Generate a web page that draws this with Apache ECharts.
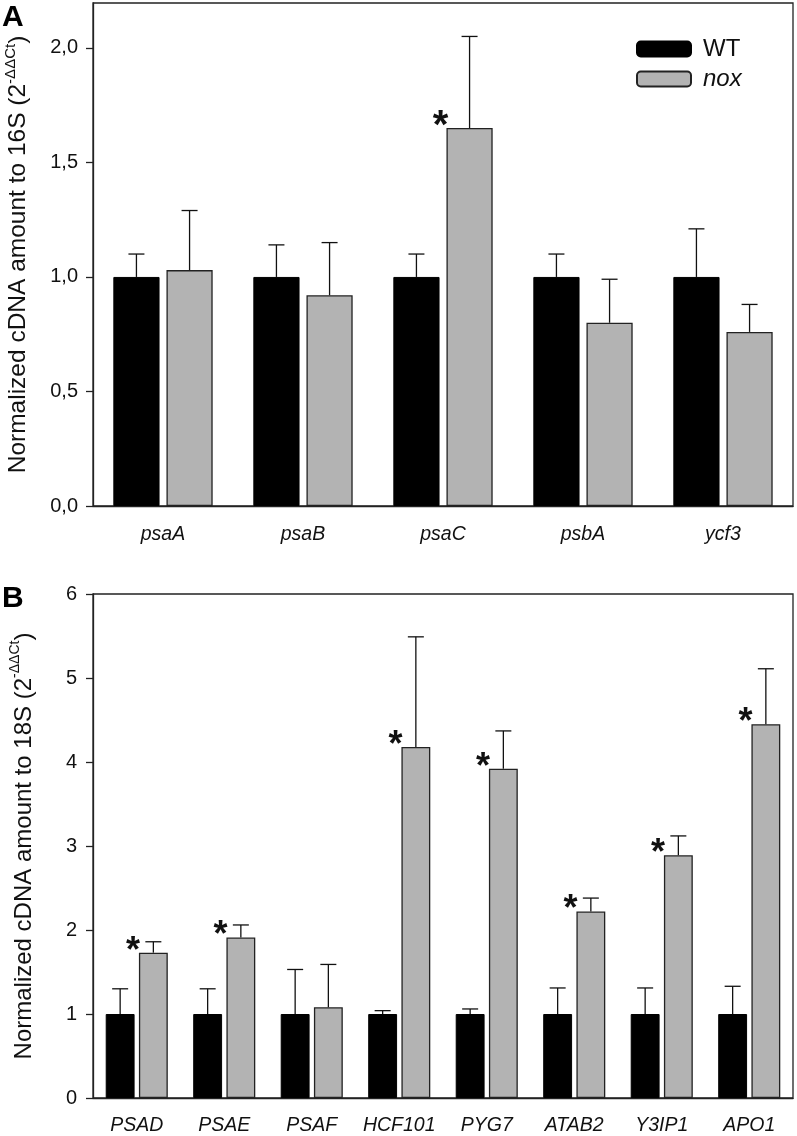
<!DOCTYPE html>
<html><head><meta charset="utf-8">
<script src="https://cdn.jsdelivr.net/npm/echarts@6/dist/echarts.min.js"></script>
<style>html,body{margin:0;padding:0;background:#fff}#c{width:797px;height:1136px}</style>
</head><body><div id="c"></div><script>
// Panel A (chloroplast genes, normalized to 16S)
const genesA = ['psaA', 'psaB', 'psaC', 'psbA', 'ycf3'];
const wtA = [1.0, 1.0, 1.0, 1.0, 1.0];
const wtErrA = [0.10, 0.14, 0.10, 0.10, 0.21];
const noxA = [1.03, 0.92, 1.65, 0.80, 0.76];
const noxErrA = [0.26, 0.23, 0.40, 0.19, 0.12];
const sigA = [false, false, true, false, false];
const ticksA = [0, 0.5, 1.0, 1.5, 2.0];

// Panel B (nuclear genes, normalized to 18S)
const genesB = ['PSAD', 'PSAE', 'PSAF', 'HCF101', 'PYG7', 'ATAB2', 'Y3IP1', 'APO1'];
const wtB = [1, 1, 1, 1, 1, 1, 1, 1];
const wtErrB = [0.30, 0.30, 0.53, 0.04, 0.06, 0.31, 0.31, 0.33];
const noxB = [1.73, 1.91, 1.08, 4.18, 3.92, 2.22, 2.89, 4.45];
const noxErrB = [0.13, 0.15, 0.51, 1.31, 0.45, 0.16, 0.23, 0.66];
const sigB = [true, true, false, true, true, true, true, true];

const FONT = '"Liberation Sans", Arial, Helvetica, sans-serif';
const BAR_W = 0.33, BAR_GAP = 0.15;
const GRAY = '#b3b3b3';

function barOffset(band, idx) {
  const w = band * BAR_W, g = w * BAR_GAP;
  const total = 2 * w + g;
  const start = -total / 2;
  return { center: start + w / 2 + idx * (w + g), w: w };
}

function errSeries(gridIdx, vals, errs, sig, idx) {
  return {
    type: 'custom', xAxisIndex: gridIdx, yAxisIndex: gridIdx, z: 5,
    data: vals.map((v, i) => [i, v, errs[i], sig ? (sig[i] ? 1 : 0) : 0]),
    renderItem: function (params, api) {
      const ci = api.value(0), v = api.value(1), e = api.value(2), s = api.value(3);
      const band = api.size([1, 0])[0];
      const off = barOffset(band, idx);
      const base = api.coord([ci, v]);
      const top = api.coord([ci, v + e]);
      const x = base[0] + off.center;
      const cap = 8;
      const st = { stroke: '#111', lineWidth: 1.3 };
      const children = [
        { type: 'line', shape: { x1: x, y1: base[1], x2: x, y2: top[1] }, style: st },
        { type: 'line', shape: { x1: x - cap, y1: top[1], x2: x + cap, y2: top[1] }, style: st }
      ];
      if (s) {
        const fs = gridIdx === 0 ? 40 : 36;
        children.push({
          type: 'text',
          style: {
            text: '*', x: x - off.w / 2 - 6, y: base[1] - fs * 0.03,
            fontSize: fs, fontFamily: FONT, fontWeight: 'bold', fill: '#111',
            align: 'center', verticalAlign: 'middle'
          }
        });
      }
      return { type: 'group', children: children };
    }
  };
}

const axisStyle = { lineStyle: { color: '#222', width: 1.3 } };
const tickStyle = { color: '#222', width: 1.3 };
const catLabel = { fontSize: 19.5, fontStyle: 'italic', color: '#111', fontFamily: FONT, interval: 0, hideOverlap: false };
const valLabel = { fontSize: 20, color: '#111', fontFamily: FONT };
function nameRich(fs) {
  return {
    n: { fontSize: fs, color: '#111', fontFamily: FONT, lineHeight: 28, verticalAlign: 'bottom' },
    s: { fontSize: Math.round(fs * 0.6), color: '#111', fontFamily: FONT, lineHeight: 28, verticalAlign: 'top' }
  };
}

const option = {
  animation: false,
  backgroundColor: '#fff',
  textStyle: { fontFamily: FONT },
  grid: [
    { left: 93, top: 3, width: 700, height: 503, show: true, borderColor: '#222', borderWidth: 1.3,
      containLabel: false, outerBoundsMode: 'none' },
    { left: 93, top: 594, width: 700, height: 504, show: true, borderColor: '#222', borderWidth: 1.3,
      containLabel: false, outerBoundsMode: 'none' }
  ],
  legend: {
    left: 636, top: 37, orient: 'vertical', itemWidth: 54, itemHeight: 15, itemGap: 6, padding: 0,
    data: ['WT', 'nox'],
    formatter: n => n === 'nox' ? '{i|nox}' : n,
    textStyle: { fontSize: 24, color: '#111', fontFamily: FONT, padding: [0, 0, 0, 7],
      rich: { i: { fontSize: 24, fontStyle: 'italic', color: '#111', fontFamily: FONT } } }
  },
  xAxis: [
    { type: 'category', gridIndex: 0, data: genesA,
      axisLine: axisStyle, axisTick: { alignWithLabel: true, length: 7, lineStyle: tickStyle },
      axisLabel: Object.assign({ margin: 19 }, catLabel) },
    { type: 'category', gridIndex: 1, data: genesB,
      axisLine: axisStyle, axisTick: { alignWithLabel: true, length: 7, lineStyle: tickStyle },
      axisLabel: Object.assign({ margin: 18 }, catLabel) }
  ],
  yAxis: [
    { type: 'value', gridIndex: 0, min: 0, max: 2.196, splitLine: { show: false },
      axisLine: Object.assign({ show: true }, axisStyle),
      axisTick: { show: true, length: 7, customValues: ticksA, lineStyle: tickStyle },
      axisLabel: Object.assign({ margin: 15, customValues: ticksA, formatter: v => v.toFixed(1).replace('.', ',') }, valLabel),
      name: '{n|Normalized cDNA amount to 16S (2}{s|-ΔΔCt}{n|)}',
      nameLocation: 'middle', nameRotate: 90, nameGap: 62,
      nameTextStyle: { rich: nameRich(24.5) } },
    { type: 'value', gridIndex: 1, min: 0, max: 6, interval: 1, splitLine: { show: false },
      axisLine: Object.assign({ show: true }, axisStyle),
      axisTick: { show: true, length: 7, lineStyle: tickStyle },
      axisLabel: Object.assign({ margin: 16 }, valLabel),
      name: '{n|Normalized cDNA amount to 18S (2}{s|-ΔΔCt}{n|)}',
      nameLocation: 'middle', nameRotate: 90, nameGap: 57,
      nameTextStyle: { rich: nameRich(24) } }
  ],
  graphic: [
    { type: 'text', left: 2, top: 3, style: { text: 'A', fontSize: 30, fontWeight: 'bold', fill: '#000', fontFamily: FONT } },
    { type: 'text', left: 2, top: 584, style: { text: 'B', fontSize: 30, fontWeight: 'bold', fill: '#000', fontFamily: FONT } }
  ],
  series: [
    { name: 'WT', type: 'bar', xAxisIndex: 0, yAxisIndex: 0, data: wtA, barWidth: (BAR_W * 100) + '%', barGap: (BAR_GAP * 100) + '%',
      itemStyle: { color: '#000', borderColor: '#000', borderWidth: 1 } },
    { name: 'nox', type: 'bar', xAxisIndex: 0, yAxisIndex: 0, data: noxA, barWidth: (BAR_W * 100) + '%', barGap: (BAR_GAP * 100) + '%',
      itemStyle: { color: GRAY, borderColor: '#222', borderWidth: 1.3 } },
    { name: 'WT', type: 'bar', xAxisIndex: 1, yAxisIndex: 1, data: wtB, barWidth: (BAR_W * 100) + '%', barGap: (BAR_GAP * 100) + '%',
      itemStyle: { color: '#000', borderColor: '#000', borderWidth: 1 } },
    { name: 'nox', type: 'bar', xAxisIndex: 1, yAxisIndex: 1, data: noxB, barWidth: (BAR_W * 100) + '%', barGap: (BAR_GAP * 100) + '%',
      itemStyle: { color: GRAY, borderColor: '#222', borderWidth: 1.3 } },
    errSeries(0, wtA, wtErrA, null, 0),
    errSeries(0, noxA, noxErrA, sigA, 1),
    errSeries(1, wtB, wtErrB, null, 0),
    errSeries(1, noxB, noxErrB, sigB, 1)
  ]
};
const chart = echarts.init(document.getElementById('c'), null, { renderer: 'canvas' });
chart.setOption(option);
</script></body></html>
